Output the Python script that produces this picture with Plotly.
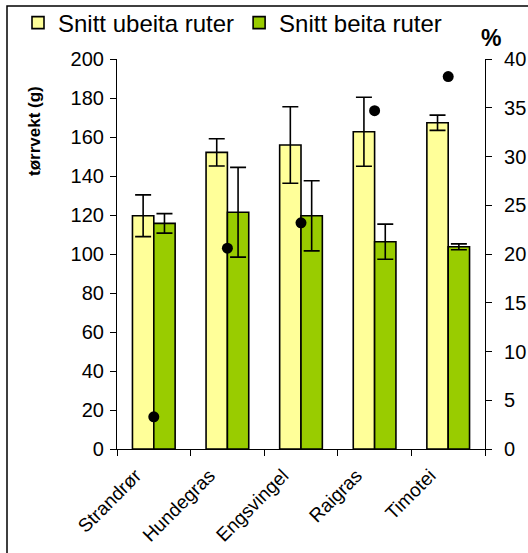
import plotly.graph_objects as go

categories = ["Strandrør", "Hundegras", "Engsvingel", "Raigras", "Timotei"]
ubeita = [119.6, 152.1, 155.9, 162.7, 167.3]
ubeita_err = [10.7, 7.0, 19.6, 17.7, 3.9]
beita = [115.7, 121.4, 119.6, 106.3, 103.7]
beita_err = [5.0, 23.0, 18.0, 9.0, 1.5]
pct = [3.3, 20.6, 23.2, 34.7, 38.2]

W, H = 528, 553
L, R, T, B = 117, 485, 59, 449
pw, ph = R - L, B - T

def px(x):
    return (x - L) / pw

def py(y):
    return (B - y) / ph

FONT = "Liberation Sans, Arial, sans-serif"

fig = go.Figure()
fig.add_trace(go.Bar(
    x=categories, y=ubeita, name="Snitt ubeita ruter",
    marker=dict(color="#FFFF99", line=dict(color="black", width=1.6)),
    error_y=dict(type="data", array=ubeita_err, color="black", thickness=1.6, width=8),
))
fig.add_trace(go.Bar(
    x=categories, y=beita, name="Snitt beita ruter",
    marker=dict(color="#99CC00", line=dict(color="black", width=1.6)),
    error_y=dict(type="data", array=beita_err, color="black", thickness=1.6, width=8),
))
fig.add_trace(go.Scatter(
    x=categories, y=pct, yaxis="y2", mode="markers", showlegend=False,
    marker=dict(color="black", size=11, symbol="circle"),
))

fig.update_layout(
    width=W, height=H,
    margin=dict(l=L, r=W - R, t=T, b=H - B, autoexpand=False),
    paper_bgcolor="white", plot_bgcolor="white",
    font=dict(family=FONT, color="black", size=18),
    barmode="group", bargap=0.42, bargroupgap=0,
    showlegend=True,
    legend=dict(orientation="h", x=px(18), y=py(23), xanchor="left", yanchor="middle",
                font=dict(size=24), bgcolor="rgba(0,0,0,0)", itemwidth=30,
                traceorder="normal"),
    xaxis=dict(showline=True, linecolor="black", linewidth=1.2,
               ticks="outside", ticklen=6, tickcolor="black", tickson="boundaries",
               tickangle=-45, tickfont=dict(size=19), showgrid=False, zeroline=False,
               ticklabelshift=-18, ticklabelstandoff=7),
    yaxis=dict(range=[0, 200], dtick=20, showline=True, linecolor="black", linewidth=1.2,
               ticks="outside", ticklen=6, tickcolor="black", showgrid=False, zeroline=False,
               tickfont=dict(size=20), ticklabelstandoff=2),
    yaxis2=dict(range=[0, 40], dtick=5, overlaying="y", side="right", showline=True,
                linecolor="black", linewidth=1.2, ticks="outside", ticklen=6,
                tickcolor="black", showgrid=False, zeroline=False, tickfont=dict(size=20),
                ticklabelstandoff=8),
    shapes=[dict(type="rect", xref="paper", yref="paper",
                 x0=px(7), x1=px(540), y0=py(565), y1=py(6),
                 line=dict(color="black", width=1.5), fillcolor="rgba(0,0,0,0)", layer="below")],
    annotations=[
        dict(text="<b>tørrvekt (g)</b>", xref="paper", yref="paper", x=px(34), y=py(131),
             textangle=-90, showarrow=False, font=dict(size=17), xanchor="center", yanchor="middle"),
        dict(text="<b>%</b>", xref="paper", yref="paper", x=px(491), y=py(38),
             showarrow=False, font=dict(size=23), xanchor="center", yanchor="middle"),
    ],
)

fig.write_html("out.html", config={"displayModeBar": False},
               post_script="document.body.style.margin='0';")
